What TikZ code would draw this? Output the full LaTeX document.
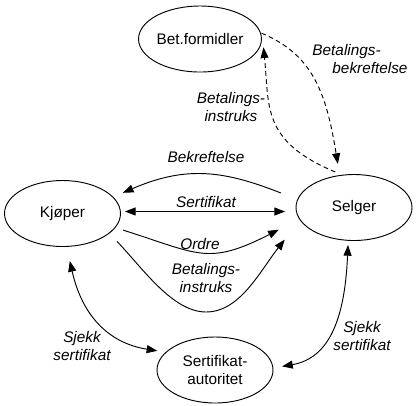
\documentclass[tikz,border=0pt]{standalone}
\usepackage{fontspec}
\setmainfont{Liberation Sans}
\usetikzlibrary{shapes.geometric,arrows.meta}

\newcommand\labfont{\fontsize{11.5}{13.5}\selectfont}

\tikzset{
    actor/.style={ellipse,draw,minimum width=87pt,minimum height=49.5pt,inner sep=0,outer sep=0,align=center,font=\labfont},
    note/.style={font=\labfont\itshape,align=center,inner sep=0},
    msg/.style={->},
    paid/.style={->,dash pattern=on 3.5pt off 2.5pt}
    }

\begin{document}
\begin{tikzpicture}[x=0.75pt,y=-0.75pt,line width=0.7pt,>={Triangle[length=8pt,width=6pt]}]
    \useasboundingbox (0,0) rectangle (417,405);
    % The actors
    \node(bet)[actor] at (200,39) {Bet.formidler};
    \node(kj)[actor] at (62.5,213.5) {Kjøper};
    \node(se)[actor] at (354,207.5) {Selger};
    \node(sa)[actor] at (215,370) {Sertifikat-\\autoritet};

    % The messages
    \draw[msg, shorten <=13.5pt, shorten >=8.2pt] (se.172) .. controls (225,171) and (187,165) .. (kj.18);
    \draw[msg, <->, shorten <=3.4pt, shorten >=8.5pt] (kj.2) -- (se.184);
    \draw[msg, shorten <=6.4pt, shorten >=17.6pt] (kj.-15) .. controls (199,254) and (207.5,266) .. (se.192.5);
    \draw[msg, shorten <=8.6pt, shorten >=18.8pt] (kj.-23.6) .. controls (141,266) and (172,312) .. (206,312)
        .. controls (240,312) and (260,271) .. (se.193.5);
    \draw[msg, <->, shorten <=11.2pt, shorten >=6.7pt] (kj.-83) .. controls (82,315) and (108,343) .. (sa.160);
    \draw[msg, <->, shorten <=3.5pt, shorten >=7pt] (se.-100) .. controls (345,315) and (331,358) .. (sa.2.5);
    \draw[paid, shorten <=1pt, shorten >=8.8pt] (bet.6.5) .. controls (314,55) and (326.5,95) .. (se.114);
    \draw[paid, shorten <=6.2pt] (se.109) .. controls (261,141) and (269.5,106) .. ([xshift=3pt]bet.-8);

    % The labels
    \node(lbek)[note] at (206,157) {Bekreftelse};
    \node(lsert)[note] at (206,202) {Sertifikat};
    \node(lord)[note] at (200,244) {Ordre};
    \node(linstr)[note] at (206,278) {Betalings-\\instruks};
    \node(lsjv)[note] at (82,346) {Sjekk\\sertifikat};
    \node(lsjh)[note] at (362,336) {Sjekk\\sertifikat};
    \node(linstb)[note] at (231,107) {Betalings-\\instruks};
    \node(lbekb)[note, align=left, anchor=west] at (312,59) {Betalings-\\\hspace*{15pt}bekreftelse};
\end{tikzpicture}
\end{document}
